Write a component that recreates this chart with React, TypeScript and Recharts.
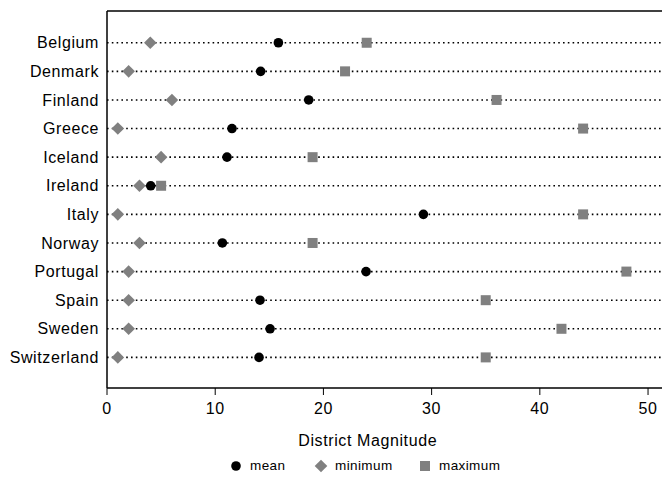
import { ScatterChart, Scatter, XAxis, YAxis, ReferenceLine } from 'recharts';

const countries = [
  'Belgium', 'Denmark', 'Finland', 'Greece', 'Iceland', 'Ireland',
  'Italy', 'Norway', 'Portugal', 'Spain', 'Sweden', 'Switzerland',
];
const meanValues = [15.84, 14.2, 18.64, 11.55, 11.09, 4.04, 29.24, 10.66, 23.94, 14.14, 15.07, 14.05];
const minValues = [4, 2, 6, 1, 5, 3, 1, 3, 2, 2, 2, 1];
const maxValues = [24, 22, 36, 44, 19, 5, 44, 19, 48, 35, 42, 35];
const xTicks = [0, 10, 20, 30, 40, 50];

const GRAY = '#808080';
const Y_MIN = -1.11;
const Y_MAX = 12.07;
const FONT = { fill: '#000', fontSize: 16, letterSpacing: 0.6 };

const toPoints = (values: number[]) => values.map((v, i) => ({ x: v, y: i }));

const CircleShape = ({ cx, cy }: any) => <circle cx={cx} cy={cy} r={4.8} fill="#000" />;
const DiamondShape = ({ cx, cy }: any) => (
  <polygon points={`${cx - 6.3},${cy} ${cx},${cy - 6.3} ${cx + 6.3},${cy} ${cx},${cy + 6.3}`} fill={GRAY} />
);
const SquareShape = ({ cx, cy }: any) => <rect x={cx - 5} y={cy - 5} width={10} height={10} fill={GRAY} />;

// legend drawn by hand, below the axis title
const legendItems = [
  { label: 'mean', icon: 'circle', cx: 236, textX: 250 },
  { label: 'minimum', icon: 'diamond', cx: 321, textX: 335 },
  { label: 'maximum', icon: 'square', cx: 425, textX: 439 },
];

const LegendIcon = ({ icon }: { icon: string }) => (
  <svg width={14} height={14} style={{ display: 'block' }}>
    {icon === 'circle' && <circle cx={7} cy={7} r={4.8} fill="#000" />}
    {icon === 'diamond' && <polygon points="0.7,7 7,0.7 13.3,7 7,13.3" fill={GRAY} />}
    {icon === 'square' && <rect x={2} y={2} width={10} height={10} fill={GRAY} />}
  </svg>
);

export default function App() {
  return (
    <div
      style={{
        position: 'absolute',
        left: 0,
        top: 0,
        width: 662,
        height: 477,
        overflow: 'hidden',
        background: '#fff',
        fontFamily: '"Liberation Sans", Arial, sans-serif',
      }}
    >
      <ScatterChart width={700} height={477} margin={{ top: 11, right: 19.5, left: 0, bottom: 59 }}>
        <XAxis
          type="number"
          dataKey="x"
          domain={[0, 53]}
          ticks={xTicks}
          allowDataOverflow
          height={30}
          tickSize={7}
          tickMargin={8}
          axisLine={{ stroke: '#000', strokeWidth: 1.5 }}
          tickLine={{ stroke: '#000', strokeWidth: 1 }}
          tick={FONT}
          label={{ value: 'District Magnitude', position: 'bottom', offset: 17, dx: -26, ...FONT }}
        />
        <YAxis
          type="number"
          dataKey="y"
          domain={[Y_MIN, Y_MAX]}
          reversed
          allowDataOverflow
          ticks={countries.map((_, i) => i)}
          interval={0}
          tickFormatter={(i: number) => countries[i] ?? ''}
          width={107}
          tickLine={false}
          axisLine={{ stroke: '#000', strokeWidth: 1.5 }}
          tick={FONT}
        />
        <ReferenceLine y={Y_MIN} stroke="#000" strokeWidth={1.5} ifOverflow="visible" />
        {countries.map((c, i) => (
          <ReferenceLine key={c} y={i} stroke="#000" strokeWidth={1.6} strokeDasharray="1.6 3.2" />
        ))}
        <Scatter name="minimum" data={toPoints(minValues)} shape={DiamondShape} isAnimationActive={false} />
        <Scatter name="maximum" data={toPoints(maxValues)} shape={SquareShape} isAnimationActive={false} />
        <Scatter name="mean" data={toPoints(meanValues)} shape={CircleShape} isAnimationActive={false} />
      </ScatterChart>
      {legendItems.map((item) => (
        <div key={item.label}>
          <div style={{ position: 'absolute', left: item.cx - 7, top: 459 }}>
            <LegendIcon icon={item.icon} />
          </div>
          <div
            style={{
              position: 'absolute',
              left: item.textX,
              top: 457,
              fontSize: 13.5,
              letterSpacing: 0.4,
              lineHeight: '18px',
              color: '#000',
            }}
          >
            {item.label}
          </div>
        </div>
      ))}
    </div>
  );
}
